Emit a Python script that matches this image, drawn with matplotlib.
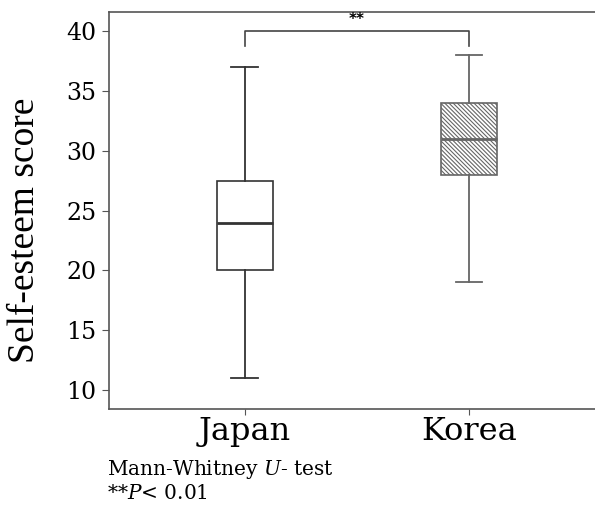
import matplotlib
matplotlib.use("Agg")
import matplotlib.pyplot as plt

# valeurs
groupes = ["Japan", "Korea"]
mini = [11, 19]
q1 = [20, 28]
mediane = [24, 31]
q3 = [27.5, 34]
maxi = [37, 38]
hachures = ["", "\\" * 8]

plt.rcParams["font.family"] = ["DejaVu Serif"]
plt.rcParams["mathtext.fontset"] = "dejavuserif"
plt.rcParams["hatch.color"] = "#555555"
plt.rcParams["hatch.linewidth"] = 0.8

fig = plt.figure(figsize=(5.95, 5.09), dpi=100)
ax = fig.add_axes([0.183, 0.1965, 0.817, 0.7795])

stats = []
for i in range(len(groupes)):
    stats.append({"label": groupes[i], "whislo": mini[i], "q1": q1[i], "med": mediane[i],
                  "q3": q3[i], "whishi": maxi[i], "fliers": []})

couleurs = ["#333333", "#666666"]
bp = ax.bxp(stats, positions=[1, 2], widths=0.25, patch_artist=True, showfliers=False)
for k in range(len(groupes)):
    b = bp["boxes"][k]
    b.set_facecolor("white")
    b.set_edgecolor(couleurs[k])
    b.set_linewidth(1.2)
    b.set_hatch(hachures[k])
    bp["medians"][k].set_color(couleurs[k])
    bp["medians"][k].set_linewidth(2)
for k, ligne in enumerate(bp["whiskers"]):
    ligne.set_color(couleurs[k // 2])
    ligne.set_linewidth(1.3)
for k, ligne in enumerate(bp["caps"]):
    ligne.set_color(couleurs[k // 2])
    ligne.set_linewidth(1.3)
    x = ligne.get_xdata()
    c = (x[0] + x[1]) / 2
    ligne.set_xdata([c - 0.06, c + 0.06])

# crochet de significativite
ax.plot([1, 1, 2, 2], [38.8, 40, 40, 38.8], color="#444444", linewidth=1.2)
ax.text(1.5, 40.35, "**", ha="center", va="bottom", fontsize=11, weight="bold",
        family=["DejaVu Sans"])

ax.set_xlim(0.393, 2.5625)
ax.set_ylim(8.4, 41.6)
ax.set_yticks([10, 15, 20, 25, 30, 35, 40])
ax.set_xticks([1, 2])
ax.set_xticklabels(groupes, fontsize=23)
ax.tick_params(axis="y", labelsize=17, length=5, color="#555555", pad=4)
ax.tick_params(axis="x", length=4, color="#555555", pad=1)
ax.spines["right"].set_visible(False)
for s in ["left", "top", "bottom"]:
    ax.spines[s].set_color("#555555")
    ax.spines[s].set_linewidth(1.2)

ax.set_ylabel("Self-esteem score", fontsize=27, family=["Liberation Serif"])
ax.yaxis.set_label_coords(-0.138, 0.45)

fig.text(0.18, 0.077, "Mann-Whitney $\\it{U}$- test", fontsize=14.5, va="center")
fig.text(0.18, 0.031, "**$\\it{P}$< 0.01", fontsize=14.5, va="center")

plt.savefig("out.png")
